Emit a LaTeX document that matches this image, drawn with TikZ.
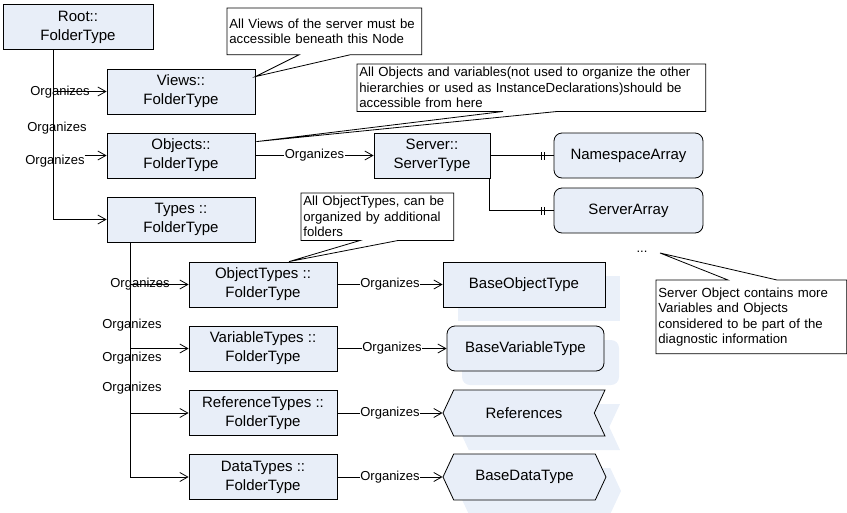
\documentclass[tikz,border=0pt]{standalone}
\usepackage{fontspec}
\setmainfont{Liberation Sans}
\usepackage{tikz}
\usetikzlibrary{positioning}
\usetikzlibrary{calc}
\usetikzlibrary{arrows.meta}
\usetikzlibrary{shapes.symbols}
\usetikzlibrary{shadows}
\usetikzlibrary{decorations.markings}
\definecolor{boxfill}{RGB}{232,238,248}
\definecolor{wmfill}{RGB}{234,240,249}
\newcommand{\boxfnt}{\fontsize{15}{19}\selectfont}
\newcommand{\notefnt}{\fontsize{13}{15}\selectfont}
\newcommand{\callfnt}{\fontsize{13.2}{15.5}\selectfont}

\begin{document}
\begin{tikzpicture}[x=1pt, y=-1pt, line width=0.8pt,
    >={Straight Barb[length=8pt,width=9pt]},
    folder/.style={draw, fill=boxfill, minimum width=148pt, minimum height=45pt,
        align=center, font=\boxfnt, inner sep=1pt},
    typebox/.style={folder, drop shadow={shadow xshift=15pt, shadow yshift=-14pt,
        fill=wmfill, opacity=1}},
    lbl/.style={font=\notefnt, inner sep=0.5pt},
    onlbl/.style={lbl, fill=white},
    note/.style={anchor=north west, font=\callfnt, align=left, inner xsep=2pt, inner ysep=3pt},
    member/.style={postaction={decorate}, decoration={markings,
        mark=at position -12pt with {\draw (0,-4pt) -- (0,4pt);},
        mark=at position -9pt with {\draw (0,-4pt) -- (0,4pt);}}}
  ]
    \useasboundingbox (0,0) rectangle (847,512);

    % Folders
    \node[folder, minimum width=150pt] (root) at (78,27) {Root::\\FolderType};
    \node[folder] (views) at (181,91.5) {Views::\\FolderType};
    \node[folder] (objects) at (181,155.5) {Objects::\\FolderType};
    \node[folder] (types) at (181,219.5) {Types ::\\FolderType};

    \node[folder, minimum width=116pt] (server) at (432,155.5) {Server::\\ServerType};
    \node[folder, rounded corners=8pt, minimum width=149pt] (nsarr) at (628.5,155.5) {NamespaceArray};
    \node[folder, rounded corners=8pt, minimum width=149pt] (srvarr) at (628.5,210.5) {ServerArray};

    \node[folder] (objtypes) at (263,284.5) {ObjectTypes ::\\FolderType};
    \node[folder] (vartypes) at (263,348.5) {VariableTypes ::\\FolderType};
    \node[folder] (reftypes) at (263,413) {ReferenceTypes ::\\FolderType};
    \node[folder] (datatypes) at (263,477) {DataTypes ::\\FolderType};

    % Base types
    \node[typebox, minimum width=162pt] (baseobj) at (524,284.5) {BaseObjectType};
    \node[typebox, rounded corners=8pt, minimum width=157pt] (basevar) at (525.5,348.5) {BaseVariableType};
    \node[typebox, signal, signal to=west, signal from=east, signal pointer angle=130,
        minimum width=162pt, minimum height=46pt] (refs) at (524,413) {References};
    \node[typebox, signal, signal to=west and east, signal pointer angle=130,
        minimum width=163pt, minimum height=46pt] (basedt) at (524.5,477) {BaseDataType};

    % Root tree
    \coordinate (rtrunk) at ($(root.south west)+(51,0)$);
    \coordinate (objin) at ($(objects.west)+(-22,0)$);
    \draw[->] (rtrunk) |- (views.west);
    \draw[->] (rtrunk) |- (types.west);
    \draw[->] (objin) -- (objects.west);
    \node[lbl] (o1) at (60,92) {Organizes};
    \node[lbl] (o2) at (57,128) {Organizes};
    \node[lbl] (o3) at (55,161) {Organizes};

    % Types tree
    \coordinate (ttrunk) at ($(types.south west)+(24,0)$);
    \draw[->] (ttrunk) |- (objtypes.west);
    \draw[->] (ttrunk) |- (vartypes.west);
    \draw[->] (ttrunk) |- (reftypes.west);
    \draw[->] (ttrunk) |- (datatypes.west);
    \node[lbl] (t1) at (140,284) {Organizes};
    \node[lbl] (t2) at (132,325) {Organizes};
    \node[lbl] (t3) at (132,358) {Organizes};
    \node[lbl] (t4) at (132,388) {Organizes};

    \draw[->] (objects.east) -- (server.west) node[onlbl, midway] {Organizes};
    \draw[->] (objtypes.east) -- (baseobj.west) node[onlbl, midway] {Organizes};
    \draw[->] (vartypes.east) -- (basevar.west) node[onlbl, midway] {Organizes};
    \draw[->] (reftypes.east) -- (refs.west) node[onlbl, midway] {Organizes};
    \draw[->] (datatypes.east) -- (basedt.west) node[onlbl, midway] {Organizes};

    % Server members
    \coordinate (srvtap) at ($(server.south east)+(-1,0)$);
    \draw[member] (server.east) -- (nsarr.west);
    \draw[member] (srvtap) |- (srvarr.west);
    \node[lbl] (more) at (642,252) {...};

    % Callouts
    \node[note, minimum width=194pt, minimum height=46pt, text width=190pt] (c1) at (227,8)
        {All Views of the server must be\\accessible beneath this Node};
    \coordinate (c1a) at ($(c1.south west)+(72,0)$);
    \coordinate (c1b) at ($(c1.south west)+(123,0)$);
    \coordinate (c1tip) at ($(views.north east)+(0,8)$);
    \draw (c1a) -- (c1.south west) -- (c1.north west) -- (c1.north east) -- (c1.south east) -- (c1b) -- (c1tip) -- cycle;

    \node[note, minimum width=348pt, minimum height=44pt, text width=344pt] (c2) at (357,64)
        {All Objects and variables(not used to organize the other\\hierarchies or used as InstanceDeclarations)should be\\accessible from here};
    \coordinate (c2a) at ($(c2.south west)+(146,0)$);
    \coordinate (c2b) at ($(c2.south west)+(200,0)$);
    \coordinate (c2tip) at ($(objects.north east)+(1,9)$);
    \draw (c2a) -- (c2.south west) -- (c2.north west) -- (c2.north east) -- (c2.south east) -- (c2b) -- (c2tip) -- cycle;

    \node[note, minimum width=152pt, minimum height=46pt, text width=148pt] (c3) at (301,193)
        {All ObjectTypes, can be\\organized by additional\\folders};
    \coordinate (c3a) at ($(c3.south west)+(59,0)$);
    \coordinate (c3b) at ($(c3.south west)+(97,0)$);
    \coordinate (c3tip) at ($(objtypes.north)+(26,0)$);
    \draw (c3a) -- (c3.south west) -- (c3.north west) -- (c3.north east) -- (c3.south east) -- (c3b) -- (c3tip) -- cycle;

    \node[note, minimum width=190pt, minimum height=73pt, text width=186pt] (c4) at (656,280)
        {Server Object contains more\\Variables and Objects\\considered to be part of the\\diagnostic information};
    \coordinate (c4a) at ($(c4.north west)+(72,0)$);
    \coordinate (c4b) at ($(c4.north west)+(121,0)$);
    \coordinate (c4tip) at (660,253);
    \draw (c4a) -- (c4tip) -- (c4b) -- (c4.north east) -- (c4.south east) -- (c4.south west) -- (c4.north west) -- cycle;
\end{tikzpicture}
\end{document}
